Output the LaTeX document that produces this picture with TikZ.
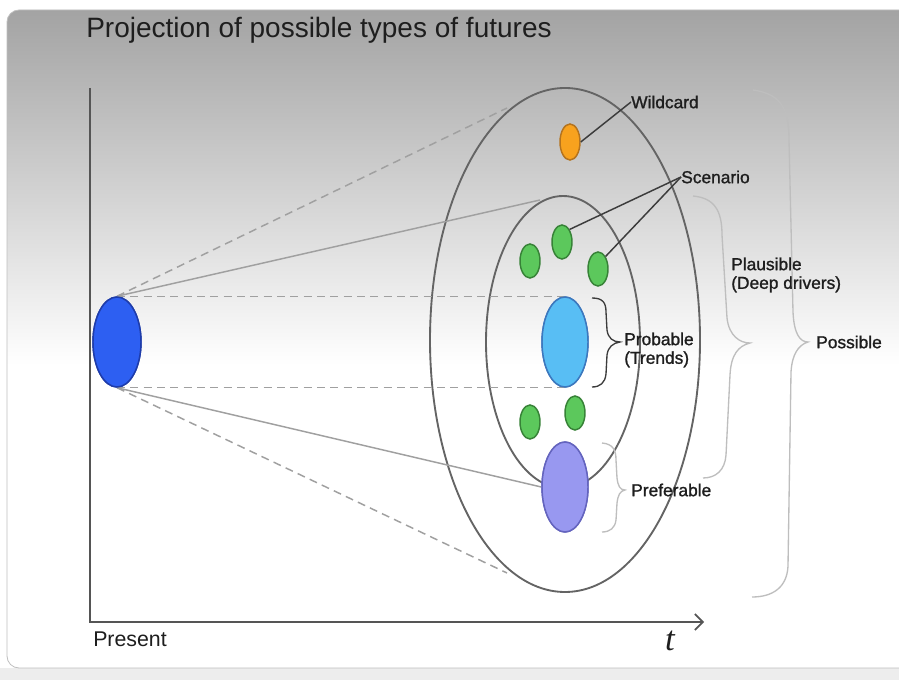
\documentclass[tikz,border=0pt]{standalone}
\usepackage{fontspec}
\setmainfont{Liberation Sans}
\newfontfamily\lblfont[FakeBold=1.2]{Liberation Sans}
\newfontfamily\tserif{Liberation Serif}
\usetikzlibrary{shapes.geometric,arrows.meta}
\definecolor{bgtop}{RGB}{163,163,163}
\definecolor{txt}{RGB}{30,30,30}
\definecolor{ringc}{RGB}{100,100,100}
\definecolor{connc}{RGB}{160,160,160}
\definecolor{ptrc}{RGB}{60,60,60}
\definecolor{brc}{RGB}{190,190,190}
\definecolor{axisc}{RGB}{85,85,85}
\definecolor{gfill}{RGB}{92,200,92}
\definecolor{gdraw}{RGB}{55,130,55}
\definecolor{ofill}{RGB}{248,162,30}
\definecolor{odraw}{RGB}{180,115,30}
\definecolor{lbfill}{RGB}{88,190,244}
\definecolor{lbdraw}{RGB}{60,120,190}
\definecolor{pfill}{RGB}{152,152,240}
\definecolor{pdraw}{RGB}{100,100,190}
\definecolor{bfill}{RGB}{45,95,242}
\definecolor{bdraw}{RGB}{30,60,170}
\begin{document}
\begin{tikzpicture}[x=0.75pt,y=-0.75pt,
  lbl/.style={font=\lblfont\fontsize{13}{14}\selectfont, text=txt, inner sep=0pt, anchor=west, align=left},
  blob/.style={ellipse, draw, line width=1.1pt, inner sep=0pt, minimum width=15pt, minimum height=25.5pt},
  bigblob/.style={blob, minimum width=34.5pt, minimum height=67.5pt},
  ring/.style={ellipse, draw=ringc, line width=1.4pt, inner sep=0pt},
  conn/.style={draw=connc, line width=1.1pt},
  dconn/.style={conn, dash pattern=on 6pt off 4pt},
  pointer/.style={draw=ptrc, line width=1.1pt},
  bracec/.style={draw=brc, line width=1pt},
  axis/.style={draw=axisc, line width=1.3pt}]
\useasboundingbox (0,0) rectangle (899,680);
% background frame
\fill[white] (0,0) rectangle (899,680);
\fill[black!7] (0,668) rectangle (899,680);
\begin{scope}
  \clip[rounded corners=9pt] (7,10) rectangle (930,668);
  \shade[top color=bgtop, bottom color=white] (7,10) rectangle (930,365);
  \fill[white] (7,365) rectangle (930,668);
\end{scope}
\draw[black!25, line width=0.6pt, rounded corners=9pt] (7,10) rectangle (930,668);

% title
\node[anchor=west, inner sep=0pt, text=txt, font=\fontsize{21}{24}\selectfont] (title) at (86,30) {Projection of possible types of futures};

% axes
\coordinate (ytop) at (90,88);
\coordinate (orig) at (90,622);
\coordinate (xend) at (704,622);
\draw[axis, -{Straight Barb[length=6pt,width=12pt,line width=1.2pt]}] (ytop) -- (orig) -- (xend);
\node[anchor=west, inner sep=0pt, text=txt, font=\fontsize{16}{18}\selectfont] (present) at (93,639) {Present};
\node[inner sep=0pt, text=txt, font=\tserif\itshape\fontsize{26}{28}\selectfont] (t) at (670,641) {t};

% rings
\node[ring, minimum width=202.5pt, minimum height=378pt] (possible) at (565,340) {};
\node[ring, minimum width=115.5pt, minimum height=219pt] (plausible) at (563,342) {};

% named points on rings
\coordinate (outtop) at (507,108);
\coordinate (outbot) at (507,573);
\coordinate (intop) at (540,200);

% present blob
\node[bigblob, fill=bfill, draw=bdraw, minimum width=36pt, minimum height=67.5pt] (present blob) at (117,342) {};
\node[bigblob, fill=lbfill, draw=lbdraw] (probable) at (565,342) {};
\node[bigblob, fill=pfill, draw=pdraw] (preferable) at (565,487) {};

% projection lines
\draw[dconn] (present blob.north) -- (outtop);
\draw[dconn] (present blob.south) -- (outbot);
\draw[conn] (present blob.north) -- (intop);
\draw[conn] (present blob.south) -- (preferable.west);
\draw[dconn] (present blob.north) -- (probable.north);
\draw[dconn] (present blob.south) -- (probable.south);

% redraw blobs on top
\node[bigblob, fill=bfill, draw=bdraw, minimum width=36pt, minimum height=67.5pt] at (117,342) {};
\node[bigblob, fill=lbfill, draw=lbdraw] at (565,342) {};
\node[bigblob, fill=pfill, draw=pdraw] at (565,487) {};

% small blobs
\node[blob, fill=ofill, draw=odraw, minimum height=27pt] (wild) at (570,142) {};
\node[blob, fill=gfill, draw=gdraw] (g1) at (562,242) {};
\node[blob, fill=gfill, draw=gdraw] (g2) at (530,261) {};
\node[blob, fill=gfill, draw=gdraw] (g3) at (598,269) {};
\node[blob, fill=gfill, draw=gdraw] (g4) at (530,422) {};
\node[blob, fill=gfill, draw=gdraw] (g5) at (575,413) {};

% labels
\node[lbl] (wildlbl) at (631,102) {Wildcard};
\node[lbl] (scenlbl) at (681,177) {Scenario};
\node[lbl] (problbl) at (624,350) {Probable\\(Trends)};
\node[lbl] (preflbl) at (631,490) {Preferable};
\node[lbl] (plauslbl) at (731,275) {Plausible\\(Deep drivers)};
\node[lbl] (posslbl) at (816,342) {Possible};

% pointers
\draw[pointer] (wild.east) -- (wildlbl.west);
\draw[pointer] (scenlbl.west) -- (g1.north east);
\draw[pointer] (scenlbl.west) -- (g3.north east);

% braces
\draw[draw=ptrc, line width=1pt] (592,298) .. controls (603,298) and (606,303) .. (606,312) -- (607,330) .. controls (608,338) and (613,342) .. (620,342) .. controls (613,343) and (608,347) .. (607,355) -- (606,374) .. controls (605,383) and (600,387) .. (592,387);
\draw[bracec] (602,443) .. controls (613,444) and (616,450) .. (616,460) -- (617,478) .. controls (618,486) and (620,490) .. (625,490) .. controls (620,491) and (618,495) .. (617,503) -- (616,520) .. controls (615,528) and (610,532) .. (602,532);
\draw[bracec] (693,196) .. controls (714,198) and (722,210) .. (722,235) -- (727,318) .. controls (729,336) and (740,343) .. (750,343) .. controls (738,346) and (731,355) .. (730,375) -- (726,455) .. controls (725,470) and (716,478) .. (703,478);
\draw[bracec] (753,90) .. controls (782,94) and (789,110) .. (789,140) -- (793,312) .. controls (794,334) and (800,342) .. (808,342) .. controls (798,345) and (792,355) .. (791,372) -- (788,566) .. controls (787,588) and (772,597) .. (752,597);
\end{tikzpicture}
\end{document}
